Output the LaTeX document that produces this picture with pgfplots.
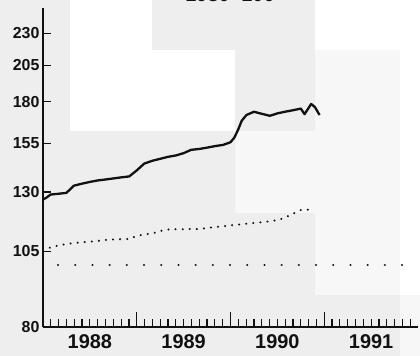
\documentclass[border=0pt]{standalone}
\usepackage{pgfplots}
\pgfplotsset{compat=1.18}
\usepackage{pgfplotstable}
\usepackage{fontspec}
\setmainfont{Liberation Sans}
\definecolor{bggray}{HTML}{EEEEEE}
\definecolor{bglight}{HTML}{F7F7F7}
\definecolor{ink}{HTML}{111111}
\tikzset{yearlab/.style={anchor=north, yshift=-4bp, font=\fontsize{20}{20}\selectfont\bfseries, text=ink}}

% upper series, monthly
\pgfplotstableread{
year value
1988.00 126.5
1988.04 127.5
1988.08 128.8
1988.17 129.2
1988.25 129.6
1988.33 133.0
1988.42 134.0
1988.50 134.8
1988.58 135.5
1988.67 136.0
1988.75 136.5
1988.83 137.0
1988.92 137.5
1989.00 140.5
1989.08 144.0
1989.17 145.5
1989.25 146.5
1989.33 147.5
1989.42 148.3
1989.50 149.5
1989.58 151.3
1989.67 151.8
1989.75 152.5
1989.83 153.3
1989.92 154.0
1990.00 155.5
1990.04 158.0
1990.08 162.5
1990.12 168.0
1990.17 171.5
1990.25 173.5
1990.33 172.3
1990.42 171.0
1990.50 172.5
1990.58 173.5
1990.67 174.5
1990.75 175.5
1990.79 172.0
1990.86 178.4
1990.90 176.5
1990.95 171.5
}\uptab

% lower series, monthly
\pgfplotstableread{
year value
1988.00 105.5
1988.08 106.5
1988.17 107.3
1988.25 107.8
1988.33 108.2
1988.42 108.5
1988.50 108.7
1988.58 109.0
1988.67 109.4
1988.75 109.6
1988.83 109.7
1988.92 109.8
1989.00 111.0
1989.08 111.6
1989.17 112.0
1989.25 113.0
1989.33 113.6
1989.42 113.7
1989.50 113.7
1989.58 113.8
1989.67 113.8
1989.75 114.2
1989.83 114.6
1989.92 114.9
1990.00 115.3
1990.08 115.6
1990.17 116.0
1990.25 116.3
1990.33 116.6
1990.42 117.0
1990.50 117.5
1990.58 118.5
1990.67 120.3
1990.75 121.8
1990.83 122.0
1990.88 121.1
}\lowtab

\begin{document}
\begin{tikzpicture}
\fill[bggray] (0,0) rectangle (420bp,356bp);
\useasboundingbox (0,0) rectangle (420bp,356bp);
% patchy scan background
\fill[white] (70bp,225bp) rectangle (152bp,356bp);
\fill[white] (152bp,225bp) rectangle (235bp,306bp);
\fill[bglight] (235bp,143bp) rectangle (315bp,225bp);
\fill[white] (315bp,306bp) rectangle (420bp,356bp);
\fill[bglight] (315bp,61bp) rectangle (400bp,306bp);
\fill[white] (400bp,61bp) rectangle (420bp,306bp);
\fill[bglight] (400bp,0) rectangle (420bp,61bp);
% title, mostly cut off by the page edge
\node[anchor=base, font=\fontsize{20}{20}\selectfont\bfseries, text=ink] at (230bp,354bp) {1980=100};

\begin{axis}[
    at={(43bp,29bp)}, anchor=south west,
    scale only axis, width=375bp, height=319bp,
    xmin=1988, xmax=1992,
    ymode=log, ymin=80, ymax=252,
    axis x line*=bottom, axis y line*=left,
    axis line style={ink, line width=1.8bp},
    tick align=inside,
    tick style={ink, line width=1.2bp},
    % monthly ticks
    xtick={1988.0833,1988.1667,1988.25,1988.3333,1988.4167,1988.5,1988.5833,1988.6667,1988.75,1988.8333,1988.9167,
           1989.0833,1989.1667,1989.25,1989.3333,1989.4167,1989.5,1989.5833,1989.6667,1989.75,1989.8333,1989.9167,
           1990.0833,1990.1667,1990.25,1990.3333,1990.4167,1990.5,1990.5833,1990.6667,1990.75,1990.8333,1990.9167,
           1991.0833,1991.1667,1991.25,1991.3333,1991.4167,1991.5,1991.5833,1991.6667,1991.75,1991.8333,1991.9167},
    xticklabels={},
    major tick length=8bp,
    xminorticks=false,
    % year boundaries
    extra x ticks={1989,1990,1991},
    extra x tick labels={},
    extra x tick style={major tick length=15bp},
    ytick=\empty,
    yminorticks=false,
    extra y ticks={80,105,130,155,180,205,230},
    extra y tick labels={80,105,130,155,180,205,230},
    extra y tick style={major tick length=8bp},
    yticklabel style={font=\fontsize{16}{16}\selectfont\bfseries, text=ink},
    clip=false,
]
\addplot[ink, line width=2.3bp, line join=round] table[x=year, y=value] {\uptab};
\addplot[ink, line width=2.2bp, line cap=round, dash pattern=on 0.1bp off 7bp] table[x=year, y=value] {\lowtab};
\addplot[ink, line width=2.3bp, line cap=round, dash pattern=on 0.1bp off 17.1bp] coordinates {(1988.16,100) (1991.84,100)};
% year labels centred in each year
\node[yearlab] at (axis cs:1988.5,80) {1988};
\node[yearlab] at (axis cs:1989.5,80) {1989};
\node[yearlab] at (axis cs:1990.5,80) {1990};
\node[yearlab] at (axis cs:1991.5,80) {1991};
\end{axis}
\end{tikzpicture}
\end{document}
